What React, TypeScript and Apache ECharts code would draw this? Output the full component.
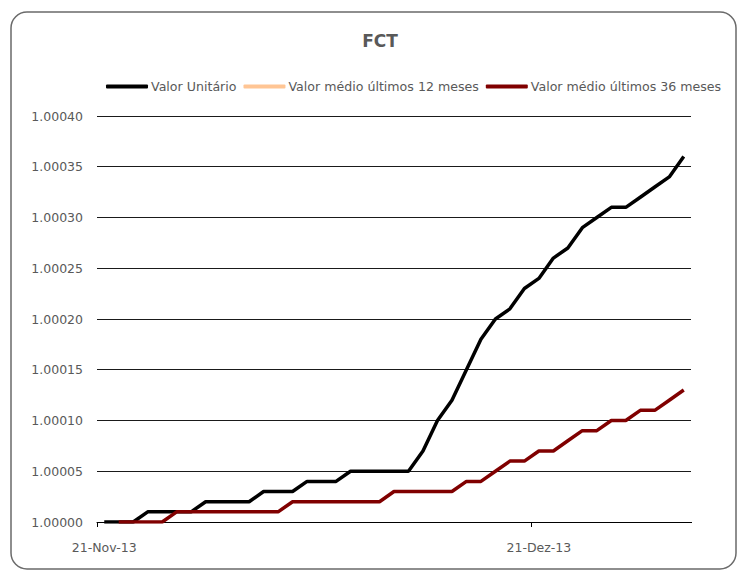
import React, { useEffect, useRef } from "react";
import * as echarts from "echarts";

const categories: string[] = [
  "21-Nov-13", "22-Nov-13", "23-Nov-13", "24-Nov-13", "25-Nov-13", "26-Nov-13", "27-Nov-13",
  "28-Nov-13", "29-Nov-13", "30-Nov-13",
  "01-Dez-13", "02-Dez-13", "03-Dez-13", "04-Dez-13", "05-Dez-13", "06-Dez-13", "07-Dez-13",
  "08-Dez-13", "09-Dez-13", "10-Dez-13", "11-Dez-13", "12-Dez-13", "13-Dez-13", "14-Dez-13",
  "15-Dez-13", "16-Dez-13", "17-Dez-13", "18-Dez-13", "19-Dez-13", "20-Dez-13", "21-Dez-13",
  "22-Dez-13", "23-Dez-13", "24-Dez-13", "25-Dez-13", "26-Dez-13", "27-Dez-13", "28-Dez-13",
  "29-Dez-13", "30-Dez-13", "31-Dez-13",
];

const valorUnitario: (number | null)[] = [
  1.0, 1.0, 1.0, 1.00001, 1.00001, 1.00001, 1.00001, 1.00002, 1.00002, 1.00002,
  1.00002, 1.00003, 1.00003, 1.00003, 1.00004, 1.00004, 1.00004, 1.00005, 1.00005, 1.00005,
  1.00005, 1.00005, 1.00007, 1.0001, 1.00012, 1.00015, 1.00018, 1.0002, 1.00021, 1.00023,
  1.00024, 1.00026, 1.00027, 1.00029, 1.0003, 1.00031, 1.00031, 1.00032, 1.00033, 1.00034,
  1.00036,
];

const medio12: (number | null)[] = categories.map(() => null);

const medio36: (number | null)[] = [
  null, 1.0, 1.0, 1.0, 1.0, 1.00001, 1.00001, 1.00001, 1.00001, 1.00001,
  1.00001, 1.00001, 1.00001, 1.00002, 1.00002, 1.00002, 1.00002, 1.00002, 1.00002, 1.00002,
  1.00003, 1.00003, 1.00003, 1.00003, 1.00003, 1.00004, 1.00004, 1.00005, 1.00006, 1.00006,
  1.00007, 1.00007, 1.00008, 1.00009, 1.00009, 1.0001, 1.0001, 1.00011, 1.00011, 1.00012,
  1.00013,
];

const seriesNames = [
  "Valor Unitário",
  "Valor médio últimos 12 meses",
  "Valor médio últimos 36 meses",
];

const FONT = "DejaVu Sans";
const GREY = "#595959";

export default function App() {
  const ref = useRef<HTMLDivElement>(null);
  useEffect(() => {
    if (!ref.current) return;
    const chart = echarts.init(ref.current, undefined, { renderer: "svg" });
    const showIdx = (i: number) => i % 30 === 0;
    chart.setOption({
      animation: false,
      backgroundColor: "#ffffff",
      textStyle: { fontFamily: FONT },
      graphic: [
        {
          type: "rect",
          shape: { x: 11, y: 12, width: 725, height: 557, r: 16 },
          style: { fill: "none", stroke: "#6a6a6a", lineWidth: 1.5 },
          silent: true,
          z: -10,
        },
        {
          type: "rect",
          shape: { x: 689, y: 523, width: 5, height: 7 },
          style: { fill: "#ffffff" },
          silent: true,
          z: 100,
        },
      ],
      title: {
        text: "FCT",
        left: 375,
        textAlign: "center",
        top: 27,
        textStyle: { fontFamily: FONT, fontSize: 17, fontWeight: "bold", color: GREY },
      },
      legend: {
        left: 101,
        top: 75,
        width: 636,
        icon: "roundRect",
        itemWidth: 42,
        itemHeight: 4,
        itemGap: 7,
        data: seriesNames,
        textStyle: { fontFamily: FONT, fontSize: 12.6, color: GREY, padding: [0, 0, 0, -2] },
      },
      grid: { left: 97, right: 47, top: 116, bottom: 49, containLabel: false },
      xAxis: {
        type: "category",
        data: categories,
        boundaryGap: true,
        axisLine: { show: true, lineStyle: { color: "#000", width: 1 } },
        axisTick: { show: true, interval: (i: number) => showIdx(i), length: 5, lineStyle: { color: "#000" } },
        axisLabel: {
          interval: (i: number) => showIdx(i),
          margin: 19,
          fontFamily: FONT,
          fontSize: 12.5,
          color: GREY,
        },
        splitLine: { show: false },
      },
      yAxis: {
        type: "value",
        min: 1.0,
        max: 1.0004,
        interval: 0.00005,
        axisLine: { show: false },
        axisTick: { show: false },
        axisLabel: {
          margin: 14,
          fontFamily: FONT,
          fontSize: 12.5,
          color: GREY,
          formatter: (v: number) => v.toFixed(5),
        },
        splitLine: { show: true, lineStyle: { color: "#1a1a1a", width: 1 } },
      },
      series: [
        {
          name: seriesNames[0],
          type: "line",
          data: valorUnitario,
          symbol: "none",
          lineStyle: { color: "#000000", width: 3.5 },
          itemStyle: { color: "#000000" },
          z: 3,
        },
        {
          name: seriesNames[1],
          type: "line",
          data: medio12,
          symbol: "none",
          lineStyle: { color: "#FFC594", width: 3.5 },
          itemStyle: { color: "#FFC594" },
          z: 2,
        },
        {
          name: seriesNames[2],
          type: "line",
          data: medio36,
          symbol: "none",
          lineStyle: { color: "#800000", width: 3.5 },
          itemStyle: { color: "#800000" },
          z: 4,
        },
      ],
    });
    return () => chart.dispose();
  }, []);
  return (
    <div
      ref={ref}
      style={{ position: "absolute", left: 0, top: 0, width: 738, height: 571 }}
    />
  );
}
